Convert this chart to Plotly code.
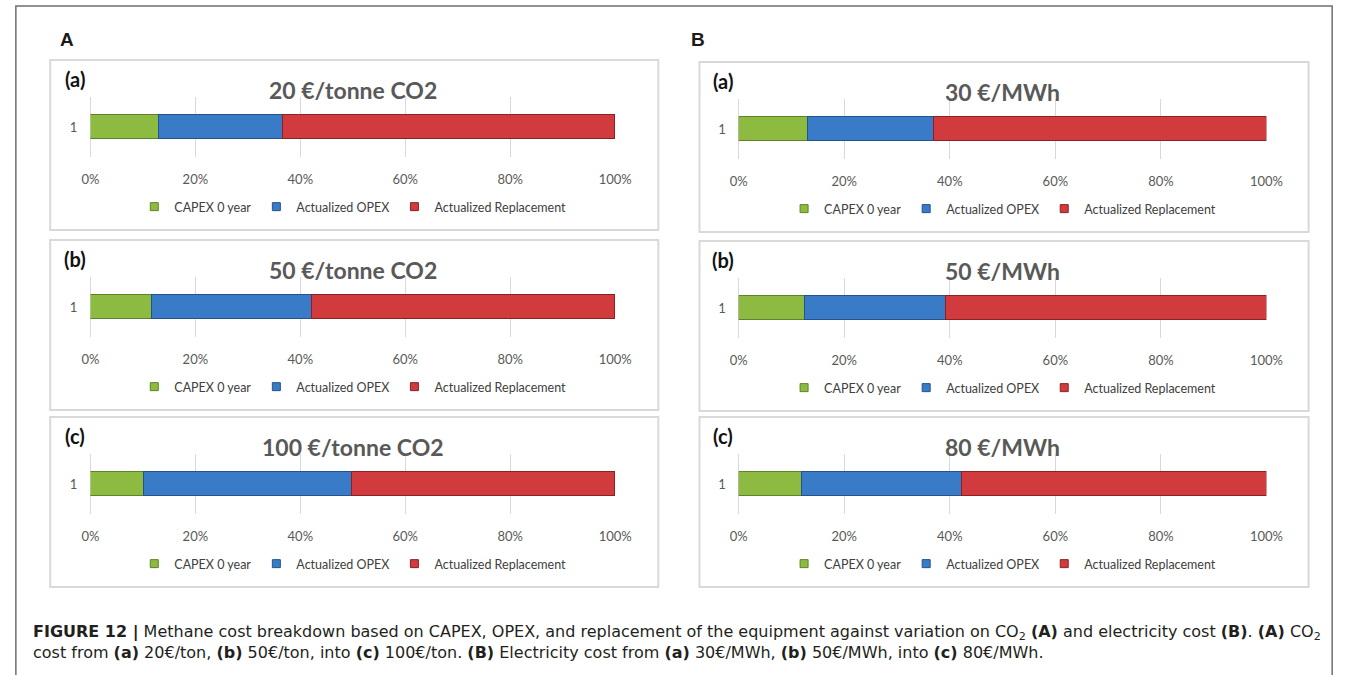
import plotly.graph_objects as go

W, H = 1357, 675

# ---- data (percent of methane cost) ----
series_names = ["CAPEX 0 year", "Actualized OPEX", "Actualized Replacement"]
category = ["1"]
row_tags = ["(a)", "(b)", "(c)"]
pct_ticks = [0, 20, 40, 60, 80, 100]

co2_titles = ["20 €/tonne CO2", "50 €/tonne CO2", "100 €/tonne CO2"]
capex_co2 = [13.2, 11.9, 10.3]
opex_co2 = [23.5, 30.4, 39.6]
repl_co2 = [63.3, 57.7, 50.1]

elec_titles = ["30 €/MWh", "50 €/MWh", "80 €/MWh"]
capex_elec = [13.1, 12.6, 11.9]
opex_elec = [23.8, 26.6, 30.3]
repl_elec = [63.1, 60.8, 57.8]

fill_colors = ["#8DBA41", "#3A7BC8", "#D13B3D"]
edge_colors = ["#5F8228", "#24528C", "#8A2224"]

CHART_FONT = "Lato, 'Open Sans', sans-serif"
CAPTION_FONT = "'DejaVu Sans', 'Liberation Sans', sans-serif"
HEAD_FONT = "'Liberation Sans', Arial, sans-serif"


def px_x(v):
    return v / W


def px_y(v):
    return 1 - v / H


# layout of the two columns, in pixels
columns = [
    dict(head="A", titles=co2_titles, values=(capex_co2, opex_co2, repl_co2),
         box=(42, 662), plot=(83, 618), tag_x=67, head_x=50, dy=[0, 0, 0]),
    dict(head="B", titles=elec_titles, values=(capex_elec, opex_elec, repl_elec),
         box=(704, 1325), plot=(744, 1282), tag_x=728, head_x=693, dy=[2, 1, 0]),
]
row_dy = [0, 180, 357]

fig = go.Figure()
layout = {}
annotations = []
shapes = []

k = 0
for col in columns:
    annotations.append(dict(
        text="<b>%s</b>" % col["head"], x=px_x(col["head_x"]), y=px_y(39),
        xref="paper", yref="paper", xanchor="left", yanchor="middle", showarrow=False,
        font=dict(family=HEAD_FONT, size=19, color="#1a1a1a")))
    for r in range(3):
        k += 1
        dy = row_dy[r] + col["dy"][r]
        xa = "x" if k == 1 else "x%d" % k
        ya = "y" if k == 1 else "y%d" % k
        lg = "legend" if k == 1 else "legend%d" % k

        for s in range(3):
            fig.add_trace(go.Bar(
                x=[col["values"][s][r]], y=category, orientation="h",
                name=series_names[s], width=0.4, showlegend=False,
                marker=dict(color=fill_colors[s], line=dict(color=edge_colors[s], width=1)),
                xaxis=xa, yaxis=ya, hoverinfo="x+name"))
        # small square legend keys like the spreadsheet original
        for s in range(3):
            fig.add_trace(go.Scatter(
                x=[None], y=[None], mode="markers", name=series_names[s],
                marker=dict(symbol="square", size=8, color=fill_colors[s],
                            line=dict(color=edge_colors[s], width=1)),
                xaxis=xa, yaxis=ya, legend=lg, hoverinfo="skip"))

        x0, x1 = col["plot"]
        layout["xaxis" if k == 1 else "xaxis%d" % k] = dict(
            domain=[px_x(x0), px_x(x1)], range=[0, 100], anchor=ya,
            tickvals=pct_ticks, ticktext=["%d%%" % t for t in pct_ticks],
            showgrid=True, gridcolor="#D9D9D9", gridwidth=1,
            zeroline=True, zerolinecolor="#D9D9D9", zerolinewidth=1,
            showline=False, ticks="", color="#595959",
            ticklabelstandoff=13, fixedrange=True,
            tickfont=dict(family=CHART_FONT, size=13, color="#595959"))
        layout["yaxis" if k == 1 else "yaxis%d" % k] = dict(
            domain=[px_y(157 + dy), px_y(97 + dy)], range=[-0.5, 0.5], anchor=xa,
            type="category", categoryarray=category, showgrid=False, zeroline=False,
            showline=False, ticks="", color="#595959", ticklabelstandoff=12,
            fixedrange=True, tickfont=dict(family=CHART_FONT, size=13, color="#595959"))
        layout[lg] = dict(
            orientation="h", x=px_x((x0 + x1) / 2), y=px_y(207 + dy),
            xanchor="center", yanchor="middle", bgcolor="rgba(0,0,0,0)",
            traceorder="normal", itemwidth=30,
            font=dict(family=CHART_FONT, size=12.5, color="#404040"),
            itemclick=False, itemdoubleclick=False)

        # panel frame
        bx0, bx1 = col["box"]
        shapes.append(dict(type="rect", xref="paper", yref="paper",
                           x0=px_x(bx0), x1=px_x(bx1), y0=px_y(230 + dy), y1=px_y(60 + dy),
                           line=dict(color="#D9D9D9", width=2), fillcolor="rgba(0,0,0,0)"))
        # chart title and sub-panel tag
        annotations.append(dict(
            text="<b>%s</b>" % col["titles"][r], x=px_x((x0 + x1) / 2), y=px_y(90 + dy),
            xref="paper", yref="paper", xanchor="center", yanchor="middle", showarrow=False,
            font=dict(family=CHART_FONT, size=23, color="#595959")))
        annotations.append(dict(
            text="<b>%s</b>" % row_tags[r], x=px_x(col["tag_x"]), y=px_y(79 + dy),
            xref="paper", yref="paper", xanchor="center", yanchor="middle", showarrow=False,
            font=dict(family=CHART_FONT, size=20, color="#111111")))

# outer frame of the figure
shapes.append(dict(type="rect", xref="paper", yref="paper",
                   x0=px_x(7), x1=px_x(1349), y0=px_y(690), y1=px_y(6),
                   line=dict(color="#6f6f6f", width=1.5), fillcolor="rgba(0,0,0,0)"))

caption_1 = ("<b>FIGURE 12 |</b> Methane cost breakdown based on CAPEX, OPEX, and replacement of the "
             "equipment against variation on CO<sub>2</sub> <b>(A)</b> and electricity cost <b>(B)</b>. "
             "<b>(A)</b> CO<sub>2</sub>")
caption_2 = ("cost from <b>(a)</b> 20€/ton, <b>(b)</b> 50€/ton, into <b>(c)</b> 100€/ton. "
             "<b>(B)</b> Electricity cost from <b>(a)</b> 30€/MWh, <b>(b)</b> 50€/MWh, into "
             "<b>(c)</b> 80€/MWh.")
for text, yy in [(caption_1, 632), (caption_2, 652)]:
    annotations.append(dict(
        text=text, x=px_x(22), y=px_y(yy), xref="paper", yref="paper",
        xanchor="left", yanchor="middle", align="left", showarrow=False,
        font=dict(family=CAPTION_FONT, size=16, color="#231f20")))

fig.update_layout(
    width=W, height=H,
    margin=dict(l=0, r=0, t=0, b=0),
    paper_bgcolor="white", plot_bgcolor="white",
    barmode="stack", bargap=0,
    annotations=annotations, shapes=shapes,
    **layout)

# drop the default page margin and scrollbars so the figure sits flush in the window
page_fix = ("document.body.style.margin = '0';"
            "document.body.style.overflow = 'hidden';"
            "document.documentElement.style.overflow = 'hidden';")
fig.write_html("out.html", post_script=page_fix, config={"displayModeBar": False})
